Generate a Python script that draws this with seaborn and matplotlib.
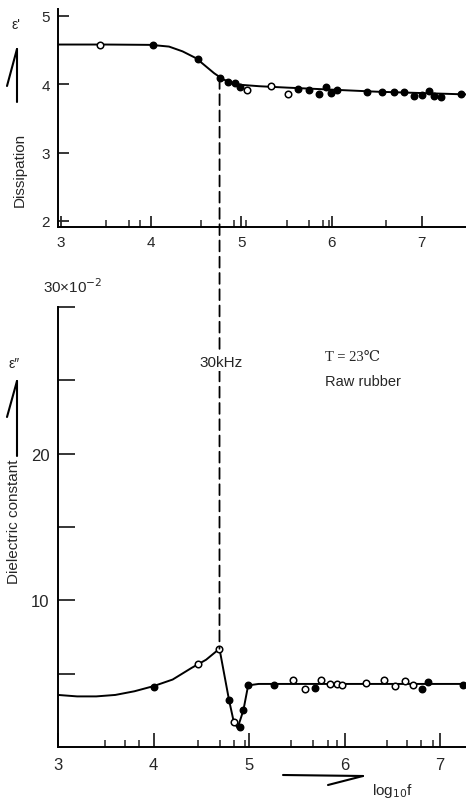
import matplotlib
matplotlib.use("Agg")
import matplotlib.pyplot as plt
import seaborn as sns
from matplotlib.lines import Line2D
from matplotlib.patches import ConnectionPatch

# --- data ---
# upper panel: eps' (curve + measured points)
top_curve_x = [2.97, 3.5, 4.0, 4.2, 4.35, 4.5, 4.6, 4.7, 4.8, 4.9, 5.0, 5.2, 5.5, 6.0, 6.5, 7.0, 7.49]
top_curve_y = [4.58, 4.58, 4.575, 4.55, 4.48, 4.38, 4.27, 4.16, 4.07, 4.02, 3.99, 3.97, 3.95, 3.92, 3.89, 3.87, 3.85]
top_filled_x = [4.02, 4.52, 4.76, 4.85, 4.93, 4.99, 5.63, 5.75, 5.86, 5.94, 5.99, 6.06,
                6.39, 6.56, 6.69, 6.80, 6.91, 7.0, 7.08, 7.13, 7.21, 7.44]
top_filled_y = [4.58, 4.37, 4.09, 4.03, 4.02, 3.96, 3.93, 3.92, 3.86, 3.96, 3.87, 3.92,
                3.89, 3.88, 3.89, 3.88, 3.82, 3.84, 3.90, 3.82, 3.81, 3.85]
top_open_x = [3.44, 5.06, 5.33, 5.52]
top_open_y = [4.58, 3.92, 3.97, 3.85]
top_freq_ticks = [3.5, 3.76, 3.88, 4.55, 4.92, 5.05, 5.51, 5.75, 5.91, 5.97, 6.6]

# lower panel: eps'' (x10^-2)
bot_curve_x = [3.0, 3.2, 3.4, 3.6, 3.8, 4.0, 4.2, 4.4, 4.55, 4.69, 4.79, 4.84, 4.88, 4.94, 4.99, 5.1, 7.27]
bot_curve_y = [3.55, 3.45, 3.45, 3.55, 3.8, 4.15, 4.6, 5.4, 5.95, 6.7, 3.2, 1.7, 1.3, 2.5, 4.2, 4.3, 4.3]
bot_filled_x = [4.0, 4.79, 4.90, 4.94, 4.99, 5.26, 5.69, 6.81, 6.87, 7.24]
bot_filled_y = [4.1, 3.2, 1.35, 2.5, 4.2, 4.2, 4.0, 3.95, 4.4, 4.2]
bot_open_x = [4.46, 4.69, 4.84, 5.46, 5.59, 5.75, 5.85, 5.92, 5.97, 6.22, 6.41, 6.53, 6.63, 6.72]
bot_open_y = [5.65, 6.7, 1.7, 4.55, 3.95, 4.55, 4.3, 4.3, 4.2, 4.35, 4.55, 4.15, 4.5, 4.2]
bot_freq_ticks = [3.49, 3.70, 3.85, 4.47, 4.70, 4.84, 4.96, 5.44, 5.67, 5.83, 5.92, 6.44, 6.65, 6.80, 6.92]

x_major = [3, 4, 5, 6, 7]
top_yticks = [2, 3, 4, 5]
bot_yticks = [5, 10, 15, 20, 25, 30]
bot_yticklabels = ["", "10", "", "20", "", ""]

# 30 kHz marker (scan scales differ slightly between the two panels)
mark_top = (4.76, 4.09)
mark_bot = (4.69, 6.7)

sns.set_style("ticks")
plt.rcParams["font.family"] = ["Liberation Sans", "DejaVu Sans"]

W, H = 466, 804
fig = plt.figure(figsize=(W / 100, H / 100), dpi=100)

def px(x, y):
    return x / W, 1 - y / H

ax1 = fig.add_axes([58 / W, 1 - 228 / H, 408 / W, 218 / H])
ax2 = fig.add_axes([58 / W, 1 - 748 / H, 408 / W, 440 / H])

def draw_panel(ax, cx, cy, fx, fy, ox, oy):
    sns.lineplot(x=cx, y=cy, ax=ax, color="black", lw=1.4, sort=False, estimator=None, zorder=2)
    sns.scatterplot(x=fx, y=fy, ax=ax, color="black", edgecolor="black", s=22, linewidth=1, zorder=3)
    sns.scatterplot(x=ox, y=oy, ax=ax, color="white", edgecolor="black", s=22, linewidth=1.1, zorder=3)
    sns.despine(ax=ax)
    for s in ["left", "bottom"]:
        ax.spines[s].set_linewidth(1.4)
        ax.spines[s].set_color("black")
    ax.set_xlabel("")
    ax.set_ylabel("")

draw_panel(ax1, top_curve_x, top_curve_y, top_filled_x, top_filled_y, top_open_x, top_open_y)
draw_panel(ax2, bot_curve_x, bot_curve_y, bot_filled_x, bot_filled_y, bot_open_x, bot_open_y)

ax1.set_xlim(2.97, 7.49)
ax1.set_ylim(1.91, 5.1)
ax1.set_xticks(x_major)
ax1.set_xticks(top_freq_ticks, minor=True)
ax1.set_yticks(top_yticks)
ax1.tick_params(axis="both", which="major", direction="in", length=8, width=1.3, labelsize=11, pad=6)
ax1.tick_params(axis="x", which="minor", direction="in", length=5, width=1.1)

ax2.set_xlim(3.0, 7.27)
ax2.set_ylim(0, 30)
ax2.set_xticks(x_major)
ax2.set_xticks(bot_freq_ticks, minor=True)
ax2.set_yticks(bot_yticks)
ax2.set_yticklabels(bot_yticklabels)
ax2.tick_params(axis="x", which="major", direction="in", length=10, width=1.3, labelsize=12, pad=7)
ax2.tick_params(axis="y", which="major", direction="in", length=12, width=1.3, labelsize=12, pad=6)
ax2.tick_params(axis="x", which="minor", direction="in", length=5, width=1.1)
ax2.spines["left"].set_bounds(0, 30)

# dashed line through both panels
con = ConnectionPatch(xyA=mark_top, coordsA=ax1.transData, xyB=mark_bot, coordsB=ax2.transData,
                      linestyle=(0, (6, 3)), color="black", lw=1.3, zorder=1)
fig.add_artist(con)

def ftext(x, y, s, **kw):
    fx_, fy_ = px(x, y)
    fig.text(fx_, fy_, s, ha=kw.pop("ha", "center"), va=kw.pop("va", "center"), **kw)

ftext(221, 363, "30kHz", fontsize=11, bbox=dict(facecolor="white", edgecolor="none", pad=1.5), zorder=5)
ftext(325, 358, "T = 23\u2103", fontsize=10.5, ha="left", family=["Liberation Serif", "DejaVu Serif"])
ftext(325, 382, "Raw rubber", fontsize=10.5, ha="left")
ftext(73, 287, "30\u00d710$^{-2}$", fontsize=11)

ftext(20, 170, "Dissipation", fontsize=11, rotation=90)
ftext(16, 25, "\u03b5'", fontsize=10)
ftext(14, 522, "Dielectric constant", fontsize=11, rotation=90)
ftext(14, 364, "\u03b5\u2033", fontsize=10)
ftext(392, 791, "log$_{10}$f", fontsize=11)

def seg(p, q, lw=1.5):
    a, b = px(*p), px(*q)
    fig.add_artist(Line2D([a[0], b[0]], [a[1], b[1]], color="black", lw=lw, transform=fig.transFigure))

# half-headed arrows
seg((17, 103), (17, 50))
seg((7, 87), (17, 50))
seg((17, 457), (17, 382))
seg((7, 418), (17, 382))
seg((283, 776), (363, 777))
seg((328, 786), (363, 777))

fig.savefig("out.png", dpi=100)
